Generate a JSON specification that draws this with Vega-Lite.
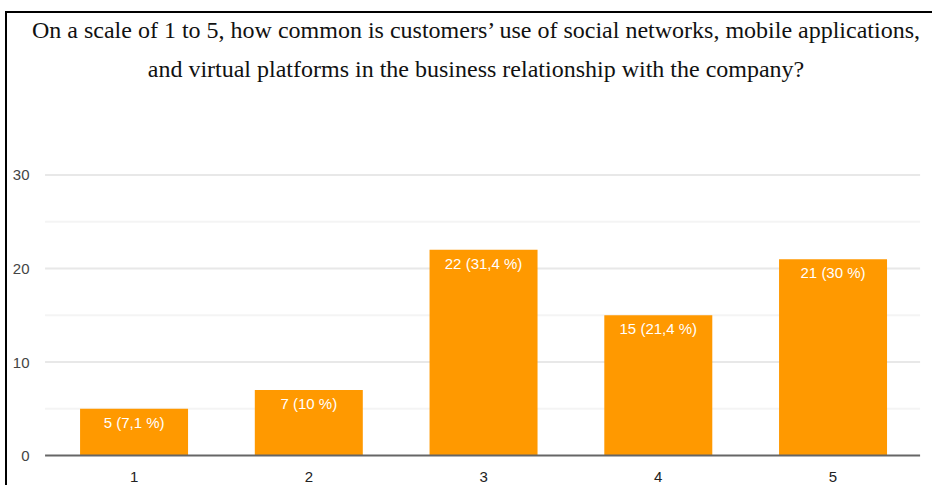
{
  "$schema": "https://vega.github.io/schema/vega-lite/v6.json",
  "autosize": "none",
  "padding": {"left": 6, "top": 12, "right": 0, "bottom": 0},
  "width": 930,
  "height": 480,
  "background": "white",
  "title": {
    "text": ["On a scale of 1 to 5, how common is customers’ use of social networks, mobile applications,", "and virtual platforms in the business relationship with the company?"],
    "font": "Liberation Serif",
    "fontSize": 24,
    "fontWeight": "normal",
    "color": "#111111",
    "lineHeight": 39,
    "anchor": "middle",
    "frame": "group",
    "baseline": "alphabetic",
    "orient": "top",
    "offset": -26,
    "dx": 5,
    "dy": 63
  },
  "layer": [
    {
      "data": {"values": [{"g": 5}, {"g": 10}, {"g": 15}, {"g": 20}, {"g": 25}, {"g": 30}]},
      "mark": {"type": "rule", "strokeWidth": 2},
      "encoding": {
        "x": {"datum": "1", "bandPosition": -0.324, "type": "nominal"},
        "x2": {"datum": "5", "bandPosition": 1.306},
        "y": {"field": "g", "type": "quantitative"},
        "color": {"condition": {"test": "datum.g % 10 == 0", "value": "#e8e8e8"}, "value": "#f4f4f4"}
      }
    },
    {
      "data": {
        "values": [
          {"rating": "1", "count": 5, "label": "5 (7,1 %)"},
          {"rating": "2", "count": 7, "label": "7 (10 %)"},
          {"rating": "3", "count": 22, "label": "22 (31,4 %)"},
          {"rating": "4", "count": 15, "label": "15 (21,4 %)"},
          {"rating": "5", "count": 21, "label": "21 (30 %)"}
        ]
      },
      "encoding": {
        "x": {"field": "rating", "type": "nominal", "sort": null},
        "y": {"field": "count", "type": "quantitative"}
      },
      "layer": [
        {"mark": {"type": "bar", "color": "#ff9900"}},
        {
          "mark": {"type": "text", "color": "white", "font": "Liberation Sans", "fontSize": 15, "baseline": "middle", "dy": 14},
          "encoding": {"text": {"field": "label"}}
        }
      ]
    },
    {
      "data": {"values": [{"z": 0}]},
      "mark": {"type": "rule", "color": "#666666", "strokeWidth": 2},
      "encoding": {
        "x": {"datum": "1", "bandPosition": -0.324, "type": "nominal"},
        "x2": {"datum": "5", "bandPosition": 1.306},
        "y": {"field": "z", "type": "quantitative"}
      }
    }
  ],
  "resolve": {"scale": {"x": "shared", "y": "shared"}},
  "encoding": {
    "x": {
      "type": "nominal",
      "scale": {"domain": ["1", "2", "3", "4", "5"], "paddingInner": 0.382, "paddingOuter": 0.352, "align": 0.602},
      "axis": {
        "title": null,
        "labelAngle": 0,
        "labelFont": "Liberation Sans",
        "labelFontSize": 15,
        "labelColor": "#222222",
        "labelBaseline": "middle",
        "labelPadding": 0,
        "ticks": false,
        "tickSize": 0,
        "domain": false,
        "grid": false,
        "offset": -16
      }
    },
    "y": {
      "type": "quantitative",
      "scale": {"domain": [-3.9, 47.43], "nice": false, "zero": false},
      "axis": {
        "title": null,
        "values": [0, 10, 20, 30],
        "labelFont": "Liberation Sans",
        "labelFontSize": 15,
        "labelColor": "#444444",
        "labelAlign": "right",
        "labelBaseline": "middle",
        "labelPadding": 0,
        "ticks": false,
        "tickSize": 0,
        "domain": false,
        "grid": false,
        "offset": -23
      }
    }
  },
  "config": {
    "view": {"stroke": "black", "strokeWidth": 2}
  }
}
